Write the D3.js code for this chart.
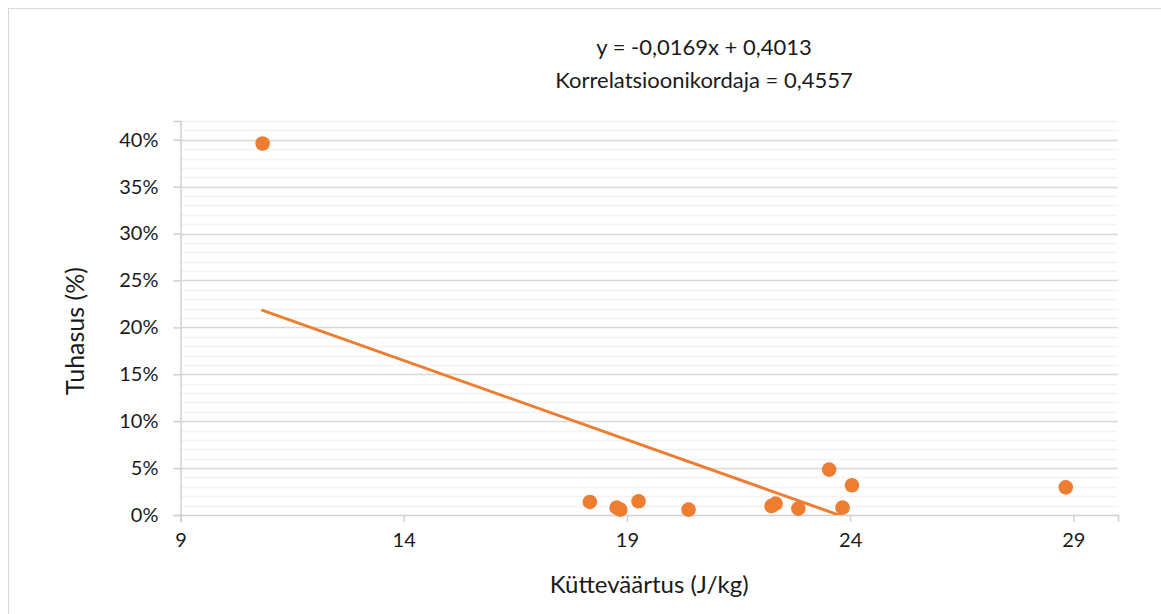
<!DOCTYPE html>
<html>
<head>
<meta charset="utf-8">
<script src="https://cdn.jsdelivr.net/npm/d3@7"></script>
<style>
    body { margin: 0; background: #fff; }
    svg text { font-family: Lato, "Open Sans", sans-serif; fill: #1a1a1a; }
</style>
</head>
<body>
<div class="chart"></div>
<script>

// Data
var kyttevaartus = [10.84, 18.17, 18.77, 18.85, 19.26, 20.38, 22.24, 22.33, 22.84, 23.53, 23.83, 24.04, 28.83];
var tuhasus = [0.396, 0.0139, 0.0079, 0.0057, 0.0146, 0.0057, 0.0096, 0.0121, 0.0068, 0.0484, 0.0079, 0.0317, 0.0295];

var xTicks = [9, 14, 19, 24, 29];
var yTicks = [0, 0.05, 0.10, 0.15, 0.20, 0.25, 0.30, 0.35, 0.40];

// Trendline coefficients shown on the chart
var slope = -0.0169;
var intercept = 0.4013;
var correlation = 0.4557;

var width = 1161, height = 614;
var margin = { top: 121, right: 43, bottom: 99, left: 180.5 };
var plotW = width - margin.left - margin.right;
var plotH = height - margin.top - margin.bottom;

var svg = d3.select(".chart")
    .append("svg")
      .attr("width", width)
      .attr("height", height);

// Chart border
svg.append("rect")
    .attr("x", 8.5)
    .attr("y", 8.5)
    .attr("width", width + 10)
    .attr("height", height + 10)
    .attr("fill", "none")
    .attr("stroke", "#d9d9d9")
    .attr("stroke-width", 1);

var g = svg.append("g")
    .attr("transform", "translate(" + margin.left + "," + margin.top + ")");

var x = d3.scaleLinear()
    .domain([9, 30])
    .range([0, plotW]);

var y = d3.scaleLinear()
    .domain([0, 0.42])
    .range([plotH, 0]);

// Minor gridlines every 1%
g.append("g")
    .selectAll("line")
    .data(d3.range(1, 43).map(function(d) { return d / 100; }))
    .enter().append("line")
      .attr("x1", 0)
      .attr("x2", plotW)
      .attr("y1", function(d) { return Math.round(y(d)) + 0.5; })
      .attr("y2", function(d) { return Math.round(y(d)) + 0.5; })
      .attr("stroke", "#f2f2f2")
      .attr("stroke-width", 1.5);

// Major gridlines
g.append("g")
    .selectAll("line")
    .data(yTicks.slice(1))
    .enter().append("line")
      .attr("x1", 0)
      .attr("x2", plotW)
      .attr("y1", function(d) { return Math.round(y(d)) + 0.5; })
      .attr("y2", function(d) { return Math.round(y(d)) + 0.5; })
      .attr("stroke", "#d9d9d9")
      .attr("stroke-width", 1.5);

// Axes
var yAxis = d3.axisLeft(y)
    .tickValues(yTicks)
    .tickFormat(d3.format(".0%"))
    .tickSize(7)
    .tickPadding(15);

var xAxis = d3.axisBottom(x)
    .tickValues(xTicks)
    .tickFormat(d3.format("d"))
    .tickSize(7)
    .tickPadding(11);

var yG = g.append("g")
    .attr("class", "yAxis")
    .call(yAxis);

var xG = g.append("g")
    .attr("class", "xAxis")
    .attr("transform", "translate(0," + plotH + ")")
    .call(xAxis);

[yG, xG].forEach(function(a) {
    a.select(".domain").attr("stroke", "#d0d0d0").attr("stroke-width", 1.5);
    a.selectAll(".tick line").attr("stroke", "#d0d0d0").attr("stroke-width", 1.5);
    a.selectAll("text").style("font-size", "20px").attr("fill", "#1a1a1a");
});

// Clip to plot area for trendline
svg.append("clipPath")
    .attr("id", "plotClip")
    .append("rect")
      .attr("width", plotW)
      .attr("height", plotH);

var xMin = d3.min(kyttevaartus), xMax = d3.max(kyttevaartus);

g.append("line")
    .attr("clip-path", "url(#plotClip)")
    .attr("x1", x(xMin))
    .attr("y1", y(slope * xMin + intercept))
    .attr("x2", x(xMax))
    .attr("y2", y(slope * xMax + intercept))
    .attr("stroke", "#ed7d31")
    .attr("stroke-width", 3)
    .attr("stroke-linecap", "round");

// Points
g.selectAll(".dot")
    .data(kyttevaartus)
    .enter().append("circle")
      .attr("class", "dot")
      .attr("cx", function(d) { return x(d); })
      .attr("cy", function(d, i) { return y(tuhasus[i]); })
      .attr("r", 7.3)
      .attr("fill", "#ed7d31");

// Trendline label
var fmt = function(v) { return String(v).replace(".", ","); };

svg.append("text")
    .attr("x", 704)
    .attr("y", 55)
    .attr("text-anchor", "middle")
    .style("font-size", "22px")
    .text("y = " + fmt(slope) + "x + " + fmt(intercept));

svg.append("text")
    .attr("x", 704)
    .attr("y", 88)
    .attr("text-anchor", "middle")
    .style("font-size", "22px")
    .text("Korrelatsioonikordaja = " + fmt(correlation));

// Axis titles
svg.append("text")
    .attr("x", margin.left + plotW / 2)
    .attr("y", 593)
    .attr("text-anchor", "middle")
    .style("font-size", "24px")
    .text("Kütteväärtus (J/kg)");

svg.append("text")
    .attr("transform", "translate(84,331) rotate(-90)")
    .attr("text-anchor", "middle")
    .style("font-size", "25px")
    .text("Tuhasus (%)");

</script>
</body>
</html>
